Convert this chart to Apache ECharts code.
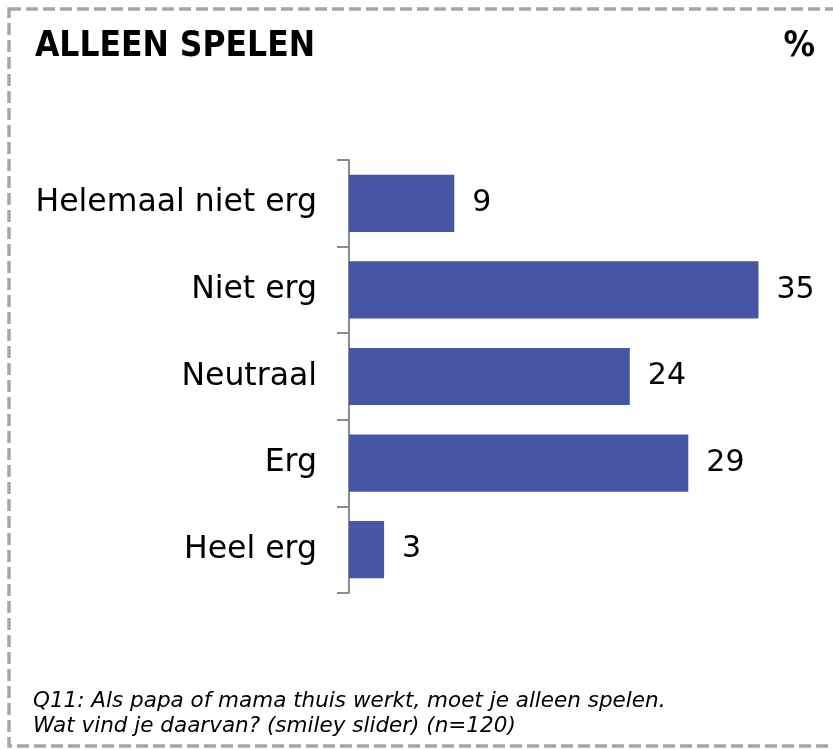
<!DOCTYPE html>
<html>
<head>
<meta charset="utf-8">
<script src="https://cdn.jsdelivr.net/npm/echarts@6/dist/echarts.min.js"></script>
<style>
  html, body { margin: 0; padding: 0; background: #fff; }
  #chart { width: 833px; height: 750px; }
</style>
</head>
<body>
<div id="chart"></div>
<script>
// antwoordcategorieen en percentages
const categories = ['Helemaal niet erg', 'Niet erg', 'Neutraal', 'Erg', 'Heel erg']
const values = [9, 35, 24, 29, 3]

const titleText = 'ALLEEN SPELEN'
const unitText = '%'
const footnote = 'Q11: Als papa of mama thuis werkt, moet je alleen spelen.\nWat vind je daarvan? (smiley slider) (n=120)'

const chart = echarts.init(document.getElementById('chart'))

chart.setOption({
  animation: false,
  textStyle: { fontFamily: 'DejaVu Sans' },
  title: [{
    text: titleText,
    left: 35,
    top: 29,
    padding: 0,
    textStyle: { fontFamily: 'DejaVu Sans Condensed', fontWeight: 'bold', fontSize: 35, color: '#000' }
  }, {
    text: unitText,
    right: 18,
    top: 29,
    padding: 0,
    textStyle: { fontFamily: 'DejaVu Sans Condensed', fontWeight: 'bold', fontSize: 35, color: '#000' }
  }],
  graphic: [{
    type: 'rect',
    shape: { x: 9, y: 9, width: 840, height: 737 },
    style: { fill: 'none', stroke: '#a6a6a6', lineWidth: 3.5, lineDash: [12, 5] },
    silent: true
  }, {
    type: 'text',
    left: 33,
    top: 689,
    style: {
      text: footnote,
      font: 'italic 21.5px "DejaVu Sans"',
      fill: '#000',
      lineHeight: 25
    }
  }],
  grid: {
    left: 349,
    top: 160,
    width: 468,
    height: 433,
    containLabel: false
  },
  xAxis: {
    type: 'value',
    min: 0,
    max: 40,
    show: false
  },
  yAxis: {
    type: 'category',
    data: categories,
    inverse: true,
    axisLine: { show: true, lineStyle: { color: '#8c8c8c', width: 2 } },
    axisTick: { show: true, length: 12, lineStyle: { color: '#8c8c8c', width: 2 } },
    axisLabel: { margin: 32, fontSize: 31.5, color: '#000', fontFamily: 'DejaVu Sans' }
  },
  series: [{
    type: 'bar',
    data: values,
    barWidth: '66%',
    itemStyle: { color: '#4755a5' },
    label: {
      show: true,
      position: 'right',
      distance: 18,
      fontSize: 30,
      color: '#000',
      fontFamily: 'DejaVu Sans'
    }
  }]
})
</script>
</body>
</html>
